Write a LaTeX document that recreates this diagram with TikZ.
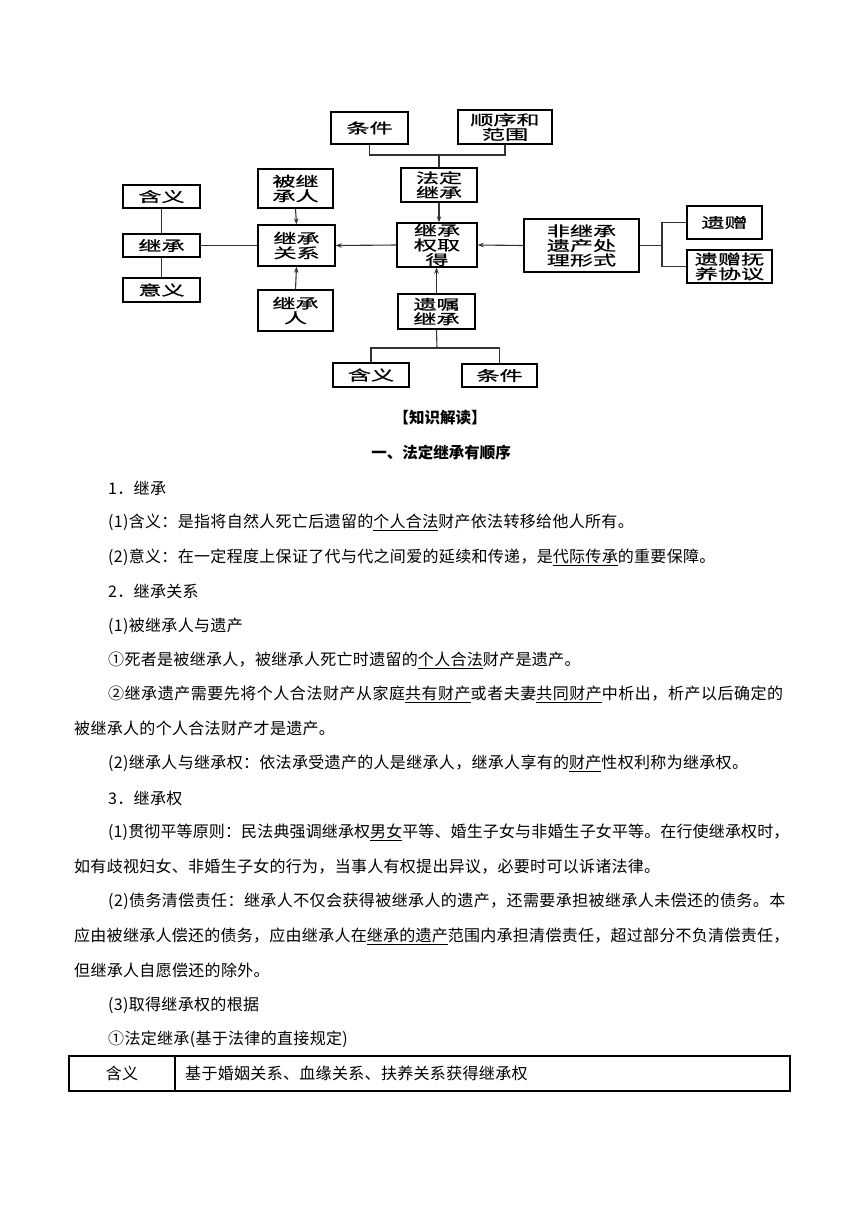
\documentclass[tikz,border=0pt]{standalone}
\usepackage{fontspec}
\setmainfont{Noto Sans CJK SC}
\newfontfamily\boxfont[FakeStretch=1.65,FakeBold=0.9]{Noto Sans CJK SC}
\usetikzlibrary{arrows.meta}
\newcommand{\jline}[2]{\setbox0=\hbox{#2}%
  \pgfmathsetmacro\lsval{(#1/\wd0*1.02-1)*100}%
  \edef\tmpls{\noexpand\addfontfeatures{LetterSpace=\lsval}}\tmpls #2}
\begin{document}
\begin{tikzpicture}[x=1pt,y=-1pt,
  box/.style={draw=black,line width=1.4pt,align=center,inner sep=0pt,
    font=\boxfont\fontsize{14}{14.6}\selectfont},
  conn/.style={line width=1.1pt,draw=black!80},
  arr/.style={conn,-{Stealth[length=6pt,width=4.5pt]}},
  body/.style={anchor=west,inner sep=0pt,
    font=\fontsize{16}{16}\selectfont\addfontfeatures{LetterSpace=2}},
  head/.style={inner sep=0pt,font=\fontsize{15.5}{15.5}\selectfont\bfseries}]
\useasboundingbox (0,0) rectangle (860,1216);
% ---------- diagram boxes ----------
\node[box,minimum width=77pt,minimum height=32pt] (tj1) at (369.5,128) {条件};
\node[box,minimum width=94pt,minimum height=34pt] (sx) at (505,127) {顺序和\\范围};
\node[box,minimum width=76pt,minimum height=34pt] (fd) at (439,185) {法定\\继承};
\node[box,minimum width=80pt,minimum height=44pt] (qd) at (437,245) {继承\\权取\\得};
\node[box,minimum width=77pt,minimum height=35pt] (yz) at (436.5,311.5) {遗嘱\\继承};
\node[box,minimum width=76pt,minimum height=24pt] (hy2) at (371,375) {含义};
\node[box,minimum width=75pt,minimum height=23pt] (tj2) at (499.5,375.5) {条件};
\node[box,minimum width=115pt,minimum height=53pt] (fj) at (581.5,245.5) {非继承\\遗产处\\理形式};
\node[box,minimum width=75pt,minimum height=33pt] (yzg) at (724.5,222.5) {遗赠};
\node[box,minimum width=85pt,minimum height=33pt] (yzfy) at (729.5,266.5) {遗赠抚\\养协议};
\node[box,minimum width=77pt,minimum height=41pt] (gx) at (296.5,245.5) {继承\\关系};
\node[box,minimum width=75pt,minimum height=39pt] (bjc) at (295.5,188.5) {被继\\承人};
\node[box,minimum width=75pt,minimum height=41pt] (jcr) at (295.5,310.5) {继承\\人};
\node[box,minimum width=77pt,minimum height=23pt] (jc) at (161.5,245.5) {继承};
\node[box,minimum width=77pt,minimum height=23pt] (hy1) at (161.5,196.5) {含义};
\node[box,minimum width=77pt,minimum height=24pt] (yy) at (161.5,290) {意义};
% ---------- connectors ----------
\coordinate (jt) at (439,155);
\draw[conn] (tj1.south) |- (jt) -| (sx.south);
\draw[conn] (jt) -- (fd.north);
\draw[arr] (fd.south) -- (fd.south |- qd.north);
\draw[arr] (yz.north) -- (yz.north |- qd.south);
\coordinate (jb) at (437,348);
\draw[conn] (yz.south) -- (jb);
\draw[conn] (hy2.north) |- (jb) -| (tj2.north);
\draw[arr] (fj.west) -- (qd.east);
\coordinate (jr) at (662,245.5);
\draw[conn] (fj.east) -- (jr);
\draw[conn] (yzg.west) -| (jr) |- (yzfy.west);
\draw[arr] (qd.west) -- (gx.east);
\draw[arr] (bjc.south) -- (gx.north);
\draw[arr] (jcr.north) -- (gx.south);
\draw[conn] (jc.east) -- (gx.west);
\draw[conn] (hy1.south) -- (jc.north);
\draw[conn] (jc.south) -- (yy.north);
% ---------- headings ----------
\node[head] (h1) at (440,418) {【知识解读】};
\node[head] (h2) at (441,453) {一、法定继承有顺序};
% ---------- body ----------
\node[body] (l1) at (108,488) {1．继承};
\node[body] (l2) at (108,522) {(1)含义：是指将自然人死亡后遗留的\underline{个人合法}财产依法转移给他人所有。};
\node[body] (l3) at (108,557) {(2)意义：在一定程度上保证了代与代之间爱的延续和传递，是\underline{代际传承}的重要保障。};
\node[body] (l4) at (108,591) {2．继承关系};
\node[body] (l5) at (108,626) {(1)被继承人与遗产};
\node[body] (l6) at (108,660) {①死者是被继承人，被继承人死亡时遗留的\underline{个人合法}财产是遗产。};
\node[body] (l7) at (108,694) {\jline{676}{②继承遗产需要先将个人合法财产从家庭\underline{共有财产}或者夫妻\underline{共同财产}中析出，析产以后确定的}};
\node[body] (l8) at (74,728) {被继承人的个人合法财产才是遗产。};
\node[body] (l9) at (108,763) {(2)继承人与继承权：依法承受遗产的人是继承人，继承人享有的\underline{财产}性权利称为继承权。};
\node[body] (l10) at (108,798) {3．继承权};
\node[body] (l11) at (108,832) {\jline{681}{(1)贯彻平等原则：民法典强调继承权\underline{男女}平等、婚生子女与非婚生子女平等。在行使继承权时，}};
\node[body] (l12) at (74,867) {\jline{586}{如有歧视妇女、非婚生子女的行为，当事人有权提出异议，必要时可以诉诸法律。}};
\node[body] (l13) at (108,901) {\jline{677}{(2)债务清偿责任：继承人不仅会获得被继承人的遗产，还需要承担被继承人未偿还的债务。本}};
\node[body] (l14) at (74,936) {\jline{715}{应由被继承人偿还的债务，应由继承人在\underline{继承的遗产}范围内承担清偿责任，超过部分不负清偿责任，}};
\node[body] (l15) at (74,970) {但继承人自愿偿还的除外。};
\node[body] (l16) at (108,1005) {(3)取得继承权的根据};
\node[body] (l17) at (108,1039) {①法定继承(基于法律的直接规定)};
% ---------- table ----------
\draw[line width=1.2pt] (69,1056) rectangle (790,1091);
\draw[line width=1.2pt] (175,1056) -- (175,1091);
\node[body,anchor=center] (t1) at (122,1073.5) {含义};
\node[body] (t2) at (185,1073.5) {基于婚姻关系、血缘关系、扶养关系获得继承权};
\end{tikzpicture}
\end{document}
